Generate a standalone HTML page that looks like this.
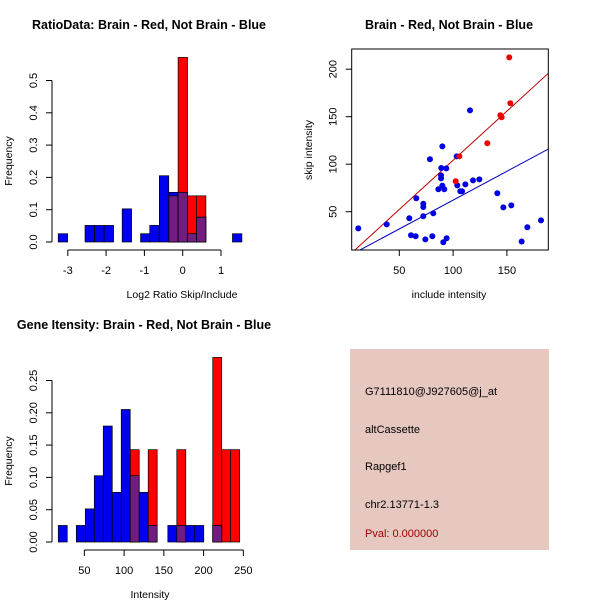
<!DOCTYPE html>
<html><head><meta charset="utf-8"><style>
body{margin:0;background:#fff}
svg text{font-family:"Liberation Sans",sans-serif;fill:#000}
</style></head><body>
<svg id="s" width="600" height="600" xmlns="http://www.w3.org/2000/svg">
<rect width="600" height="600" fill="#fff"/>
<text x="149" y="29" font-size="12.5" font-weight="bold" text-anchor="middle">RatioData: Brain - Red, Not Brain - Blue</text>
<text x="449" y="29" font-size="12.5" font-weight="bold" text-anchor="middle">Brain - Red, Not Brain - Blue</text>
<text x="144" y="329" font-size="12.5" font-weight="bold" text-anchor="middle">Gene Itensity: Brain - Red, Not Brain - Blue</text>
<text transform="translate(12,161) rotate(-90)" font-size="10.5" text-anchor="middle">Frequency</text>
<text x="182" y="298" font-size="10.5" text-anchor="middle">Log2 Ratio Skip/Include</text>
<text x="449" y="298" font-size="10.5" text-anchor="middle">include intensity</text>
<text transform="translate(312,150) rotate(-90)" font-size="10.5" text-anchor="middle">skip intensity</text>
<text transform="translate(12,461) rotate(-90)" font-size="10.5" text-anchor="middle">Frequency</text>
<text x="150" y="598" font-size="10.5" text-anchor="middle">Intensity</text>
<g>
<rect x="350" y="349" width="199" height="201" fill="#e6c8c0"/>
<text x="365" y="395" font-size="11">G7111810@J927605@j_at</text>
<text x="365" y="433" font-size="11">altCassette</text>
<text x="365" y="470" font-size="11">Rapgef1</text>
<text x="365" y="508" font-size="11">chr2.13771-1.3</text>
<text x="365" y="537" font-size="11" style="fill:#a00000">Pval: 0.000000</text>
</g>
</svg>
<script>
// ---- Ratio histogram data ----
const ratioBlueLefts=[-3.25,-2.55,-2.30,-2.05,-1.58,-1.10,-0.86,-0.61,-0.36,-0.12,0.12,0.36,1.3];
const ratioBlueFreq=[0.0256,0.0513,0.0513,0.0513,0.1026,0.0256,0.0513,0.2051,0.1538,0.1538,0.0256,0.0769,0.0256];
const ratioRedLefts=[-0.36,-0.12,0.12,0.36];
const ratioRedFreq=[0.1429,0.5714,0.1429,0.1429];
const ratioXTicks=[-3,-2,-1,0,1];
const ratioYTicks=[0,0.1,0.2,0.3,0.4,0.5];
// ---- Intensity histogram data ----
const intBlueLefts=[17.2,39.9,51.2,62.5,73.8,85.1,96.4,107.7,119.0,130.3,155,166.3,177.6,188.9,211.5];
const intBlueFreq=[0.0256,0.0256,0.0513,0.1026,0.1795,0.0769,0.2051,0.1026,0.0769,0.0256,0.0256,0.0256,0.0256,0.0256,0.0256];
const intRedLefts=[107.7,130.3,166.3,211.5,222.8,234.1];
const intRedFreq=[0.1429,0.1429,0.1429,0.2857,0.1429,0.1429];
const intXTicks=[50,100,150,200,250];
const intYTicks=[0,0.05,0.10,0.15,0.20,0.25];
// ---- Scatter data ----
const redX=[152.2,153.2,143.9,145.1,131.8,105.8,102.4];
const redY=[212.5,164.1,151.5,149.4,122,108.3,82];
const blueX=[11.9,38.3,115.7,90,78.5,103.3,89,93.7,88.8,88.8,118.5,124.4,86.3,90,91.8,103.9,111.4,106.7,108.3,141.1,65.8,72.3,72.3,146.7,154.1,81.6,72.3,59.3,181.7,169,60.9,65.2,80.7,74.2,94,90.9,163.7];
const blueY=[32.5,36.7,156.7,118.8,105.2,108.3,96,95.6,88.3,85.1,83,84,73.6,77.4,73.6,77.7,78.8,71.5,71.5,69.4,64.1,58.4,54.9,54.6,56.7,48.3,45.2,43.1,40.9,33.6,25.2,24.1,24.1,20.9,22,17.8,18.6];
const redFit=[0.6,1.035];
const blueFit=[1.5,0.607];
const scXTicks=[50,100,150];
const scYTicks=[50,100,150,200];

const NS="http://www.w3.org/2000/svg";
const svg=document.getElementById('s');
function mk(tag,attrs,parent){const e=document.createElementNS(NS,tag);for(const k in attrs)e.setAttribute(k,attrs[k]);(parent||svg).appendChild(e);return e;}

function hist(cfg){
  const g=mk('g',{});
  
  
  const X=v=>cfg.x0+(v-cfg.xv0)*cfg.xs, Y=v=>cfg.y0-v*cfg.ys;
  cfg.redL.forEach((l,i)=>{const r=mk('rect',{x:X(l),y:Y(cfg.redF[i]),width:cfg.w*cfg.xs,height:cfg.redF[i]*cfg.ys,fill:'#ff0000',stroke:'#000','stroke-width':0.7},g);
    
    });
  cfg.blueL.forEach((l,i)=>{const r=mk('rect',{x:X(l),y:Y(cfg.blueF[i]),width:cfg.w*cfg.xs,height:cfg.blueF[i]*cfg.ys,fill:'#0000f0',stroke:'#000','stroke-width':0.7},g);
    
    
    const j=cfg.redL.findIndex(v=>Math.abs(v-l)<0.001);
    if(j>=0){const h=Math.min(cfg.redF[j],cfg.blueF[i]);
      const p=mk('rect',{x:X(l),y:Y(h),width:cfg.w*cfg.xs,height:h*cfg.ys,fill:'#701c80',stroke:'#000','stroke-width':0.7},g);
      
      }});
  mk('line',{x1:X(cfg.xt[0]),x2:X(cfg.xt[cfg.xt.length-1]),y1:cfg.axY,y2:cfg.axY,stroke:'#000'},g);
  cfg.xt.forEach(t=>{mk('line',{x1:X(t),x2:X(t),y1:cfg.axY,y2:cfg.axY+6,stroke:'#000'},g);
    const tx=mk('text',{x:X(t),y:cfg.axY+24,'font-size':11,'text-anchor':'middle'},g);tx.textContent=t;
    
    });
  mk('line',{x1:cfg.axX,x2:cfg.axX,y1:Y(cfg.yt[0]),y2:Y(cfg.yt[cfg.yt.length-1]),stroke:'#000'},g);
  cfg.yt.forEach(t=>{mk('line',{x1:cfg.axX,x2:cfg.axX-6,y1:Y(t),y2:Y(t),stroke:'#000'},g);
    const tx=mk('text',{transform:`translate(${cfg.axX-15},${Y(t)}) rotate(-90)`,'font-size':11,'text-anchor':'middle'},g);tx.textContent=t.toFixed(cfg.dec);
    
    });
}
hist({name:'ratio-histogram',x0:182.7,xv0:0,xs:38.3,y0:242,ys:323,w:0.245,redL:ratioRedLefts,redF:ratioRedFreq,blueL:ratioBlueLefts,blueF:ratioBlueFreq,xt:ratioXTicks,yt:ratioYTicks,axY:250,axX:52,dec:1});
hist({name:'intensity-histogram',x0:44.6,xv0:0,xs:0.795,y0:542,ys:646,w:11.3,redL:intRedLefts,redF:intRedFreq,blueL:intBlueLefts,blueF:intBlueFreq,xt:intXTicks,yt:intYTicks,axY:550,axX:52,dec:2});

// scatter
(function(){
  const g=mk('g',{});
  
  
  const X=v=>345.5+v*1.076, Y=v=>259.2-v*0.95;
  const L=351.7,R=548.3,T=49,B=250;
  const xmin=(L-345.5)/1.076,xmax=(R-345.5)/1.076;
  const cp=mk('clipPath',{id:'cp'},g);mk('rect',{x:L,y:T,width:R-L,height:B-T},cp);
  [[blueFit,'#0000c0','blue-fit-line'],[redFit,'#c00000','red-fit-line']].forEach(([f,c,n])=>{
    const ln=mk('line',{x1:X(xmin),y1:Y(f[0]+f[1]*xmin),x2:X(xmax),y2:Y(f[0]+f[1]*xmax),stroke:c,'stroke-width':1,'clip-path':'url(#cp)'},g);
    
    });
  blueX.forEach((x,i)=>{const c=mk('circle',{cx:X(x),cy:Y(blueY[i]),r:3,fill:'#0000e0'},g);
    
    });
  redX.forEach((x,i)=>{const c=mk('circle',{cx:X(x),cy:Y(redY[i]),r:3,fill:'#ee0000'},g);
    
    });
  mk('rect',{x:L,y:T,width:R-L,height:B-T,fill:'none',stroke:'#000'},g);
  scXTicks.forEach(t=>{mk('line',{x1:X(t),x2:X(t),y1:B,y2:B+6,stroke:'#000'},g);
    const tx=mk('text',{x:X(t),y:B+24,'font-size':11,'text-anchor':'middle'},g);tx.textContent=t;
    
    });
  scYTicks.forEach(t=>{mk('line',{x1:L,x2:L-6,y1:Y(t),y2:Y(t),stroke:'#000'},g);
    const tx=mk('text',{transform:`translate(${L-15},${Y(t)}) rotate(-90)`,'font-size':11,'text-anchor':'middle'},g);tx.textContent=t;
    
    });
})();
</script>
</body></html>
